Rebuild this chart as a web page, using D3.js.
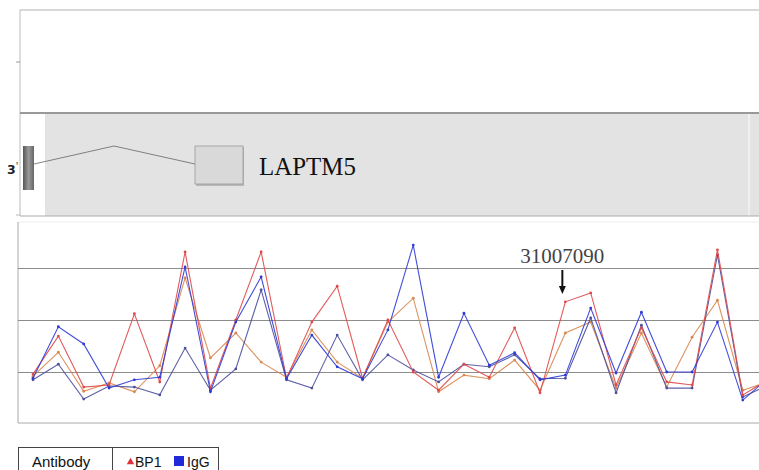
<!DOCTYPE html>
<html>
<head>
<meta charset="utf-8">
<script src="https://cdn.jsdelivr.net/npm/d3@7"></script>
<style>
  body { margin: 0; background: #fff; }
  svg { display: block; }
</style>
</head>
<body>
<div id="chart"></div>
<script>
// probe index along the region
const probes = d3.range(30);
// enrichment values
const bp1a = [-0.04, 0.69, -0.29, -0.25, 1.12, -0.19, 2.31, -0.31, 1.00, 2.31, -0.12, 0.96, 1.65, -0.12, 1.00,
              0.00, -0.35, 0.15, -0.10, 0.85, -0.40, 1.35, 1.52, -0.25, 0.85, -0.19, -0.25, 2.35, -0.44, -0.15];
const bp1b = [-0.08, 0.38, -0.37, -0.21, -0.38, 0.12, 1.81, 0.27, 0.75, 0.19, -0.10, 0.81, 0.19, -0.12, 0.96,
              1.42, -0.38, -0.06, -0.13, 0.23, -0.35, 0.75, 0.96, -0.31, 0.75, -0.29, 0.67, 1.38, -0.35, -0.19];
const igga = [-0.12, 0.87, 0.54, -0.31, -0.15, -0.10, 2.02, -0.38, 0.96, 1.83, -0.13, 0.71, 0.10, -0.13, 0.81,
              2.44, -0.10, 1.13, 0.13, 0.37, -0.15, -0.06, 1.23, -0.02, 1.15, 0.00, 0.00, 0.96, -0.54, -0.12];
const iggb = [-0.15, 0.15, -0.52, -0.27, -0.29, -0.44, 0.46, -0.35, 0.06, 1.58, -0.15, -0.31, 0.71, -0.15, 0.33,
              0.04, -0.19, 0.15, 0.10, 0.33, -0.13, -0.12, 1.04, -0.40, 0.90, -0.31, -0.31, 2.25, -0.48, -0.25];
const gridVals = [0, 1, 2];
const marked = { index: 21, label: "31007090" };

// gene track (track units)
const geneName = "LAPTM5";
const exons = [[4, 15], [176, 224]];
const intron = [15, 95, 176];

const W = 759, H = 470;
const svg = d3.select("#chart").append("svg")
    .attr("width", W).attr("height", H)
    .style("font-family", "'Liberation Serif', serif");

// ---------- top empty panel ----------
svg.append("line").attr("x1", 20).attr("x2", W).attr("y1", 10).attr("y2", 10)
    .attr("stroke", "#d8d8d8").attr("stroke-width", 2);
svg.append("line").attr("x1", 20).attr("x2", 20).attr("y1", 10).attr("y2", 216)
    .attr("stroke", "#bbb").attr("stroke-width", 1);
svg.append("line").attr("x1", 16).attr("x2", 20).attr("y1", 62).attr("y2", 62).attr("stroke", "#999");
svg.append("line").attr("x1", 16).attr("x2", 20).attr("y1", 215).attr("y2", 215).attr("stroke", "#bbb");

// ---------- gene panel ----------
const gx = d3.scaleLinear().domain([0, 740]).range([19, 759]);
svg.append("rect").attr("x", 45).attr("y", 114).attr("width", W - 45).attr("height", 102)
    .attr("fill", "#e3e3e3");
svg.append("line").attr("x1", 749).attr("x2", 749).attr("y1", 114).attr("y2", 216)
    .attr("stroke", "#efefef").attr("stroke-width", 2);
svg.append("line").attr("x1", 20).attr("x2", W).attr("y1", 113).attr("y2", 113)
    .attr("stroke", "#999").attr("stroke-width", 2);
svg.append("line").attr("x1", 20).attr("x2", W).attr("y1", 216).attr("y2", 216)
    .attr("stroke", "#aaa").attr("stroke-width", 1);

svg.append("path")
    .attr("d", d3.line()([[gx(intron[0]), 164], [gx(intron[1]), 146], [gx(intron[2]), 164]]))
    .attr("fill", "none").attr("stroke", "#666").attr("stroke-width", 0.8);

const grad = svg.append("defs").append("linearGradient").attr("id", "exg");
grad.append("stop").attr("offset", "0%").attr("stop-color", "#555");
grad.append("stop").attr("offset", "50%").attr("stop-color", "#999");
grad.append("stop").attr("offset", "100%").attr("stop-color", "#666");

svg.append("rect").attr("x", gx(exons[0][0])).attr("y", 146)
    .attr("width", gx(exons[0][1]) - gx(exons[0][0])).attr("height", 44)
    .attr("fill", "url(#exg)");
svg.append("rect").attr("x", gx(exons[1][0]) + 1).attr("y", 147)
    .attr("width", gx(exons[1][1]) - gx(exons[1][0])).attr("height", 39)
    .attr("fill", "#b8b8b8");
svg.append("rect").attr("x", gx(exons[1][0])).attr("y", 146)
    .attr("width", gx(exons[1][1]) - gx(exons[1][0])).attr("height", 38)
    .attr("fill", "#d9d9d9").attr("stroke", "#9a9a9a").attr("stroke-width", 0.8);

svg.append("text").attr("x", 7).attr("y", 174).text("3")
    .style("font-family", "'DejaVu Sans', sans-serif").style("font-weight", "bold")
    .style("font-size", "12.5px").attr("fill", "#222");
svg.append("text").attr("x", 16).attr("y", 170).text("'")
    .style("font-size", "12px").attr("fill", "#444");
svg.append("text").attr("x", 259).attr("y", 175).text(geneName)
    .attr("textLength", 97).attr("lengthAdjust", "spacingAndGlyphs")
    .style("font-size", "26px").attr("fill", "#111");

// ---------- profile panel ----------
const pLeft = 18, pRight = W, pTop = 222, pBottom = 423;
const x = d3.scaleLinear().domain([0, 29]).range([33, 33 + 25.35 * 29]);
const y = d3.scaleLinear().domain([0, 2]).range([372, 268]);

svg.append("line").attr("x1", pLeft).attr("x2", pRight).attr("y1", pTop).attr("y2", pTop)
    .attr("stroke", "#eee");
svg.append("line").attr("x1", pLeft).attr("x2", pLeft).attr("y1", pTop).attr("y2", pBottom)
    .attr("stroke", "#aaa");
svg.append("line").attr("x1", pLeft).attr("x2", pRight).attr("y1", pBottom).attr("y2", pBottom)
    .attr("stroke", "#aaa");

svg.append("g")
    .attr("transform", `translate(${pLeft},0)`)
    .call(d3.axisLeft(y).tickValues(gridVals).tickSize(-(pRight - pLeft)).tickFormat(""))
    .call(g => g.select(".domain").remove())
    .call(g => g.selectAll(".tick line").attr("stroke", "#8c8c8c").attr("stroke-width", 1));

svg.append("clipPath").attr("id", "clip").append("rect")
    .attr("x", pLeft).attr("y", pTop).attr("width", pRight - pLeft).attr("height", pBottom - pTop);

const series = [
    { values: bp1b, color: "#d8874e" },
    { values: iggb, color: "#4b4f9c" },
    { values: bp1a, color: "#e0484a" },
    { values: igga, color: "#2f3bd6" }
];

const line = d3.line().x((d, i) => x(probes[i])).y(d => y(d));
const plot = svg.append("g").attr("clip-path", "url(#clip)");

series.forEach(s => {
    plot.append("path")
        .attr("d", line(s.values))
        .attr("fill", "none")
        .attr("stroke", s.color)
        .attr("stroke-width", 1.1)
        .attr("opacity", 0.9);
    plot.selectAll(null)
        .data(s.values)
        .enter()
        .append("circle")
        .attr("cx", (d, i) => x(probes[i]))
        .attr("cy", d => y(d))
        .attr("r", 1.4)
        .attr("fill", s.color);
});

// annotation
const ax = x(marked.index) - 3;
svg.append("text").attr("x", ax - 42).attr("y", 263).text(marked.label)
    .style("font-size", "21px").attr("fill", "#444");
svg.append("line").attr("x1", ax).attr("x2", ax).attr("y1", 270).attr("y2", 288)
    .attr("stroke", "#111").attr("stroke-width", 2);
svg.append("path")
    .attr("d", `M${ax - 3.5},286 L${ax + 3.5},286 L${ax},294 Z`)
    .attr("fill", "#111");

// ---------- legend ----------
const lg = svg.append("g").style("font-family", "'Liberation Sans', Arial, sans-serif");
lg.append("rect").attr("x", 18.5).attr("y", 447.5).attr("width", 200).attr("height", 30)
    .attr("fill", "#fff").attr("stroke", "#444");
lg.append("line").attr("x1", 112.5).attr("x2", 112.5).attr("y1", 447).attr("y2", 470).attr("stroke", "#444");
lg.append("text").attr("x", 32).attr("y", 467).text("Antibody").style("font-size", "15px").attr("fill", "#111");
lg.append("path").attr("d", d3.symbol(d3.symbolTriangle, 24)()).attr("transform", "translate(130.5,462)")
    .attr("fill", "#e0303a");
lg.append("text").attr("x", 135).attr("y", 467).text("BP1").style("font-size", "14px").attr("fill", "#111");
lg.append("rect").attr("x", 174).attr("y", 456).attr("width", 10).attr("height", 10).attr("fill", "#1f2ad8");
lg.append("text").attr("x", 187).attr("y", 467).text("IgG").style("font-size", "14px").attr("fill", "#111");
</script>
</body>
</html>
